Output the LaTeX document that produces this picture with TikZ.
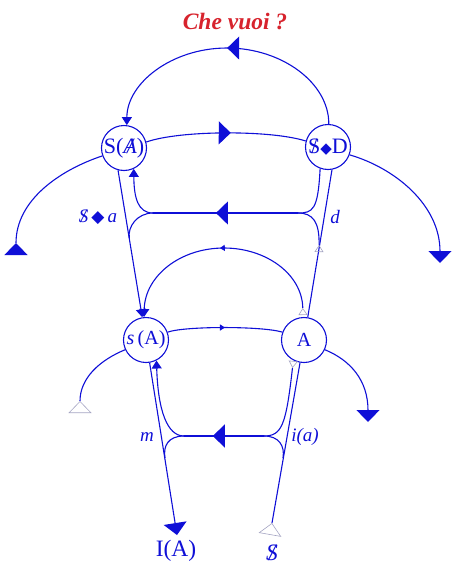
\documentclass[tikz,border=0pt]{standalone}
\usepackage{fontspec}
\setmainfont{Liberation Serif}
\newfontfamily\dejavu{DejaVu Sans}
\usetikzlibrary{arrows.meta,decorations.markings}

\definecolor{lblue}{RGB}{15,15,215}
\definecolor{vred}{RGB}{215,35,45}
\definecolor{lgray}{RGB}{165,165,195}

\newcommand{\barS}{\ooalign{S\cr\hidewidth/\hidewidth}}
\newcommand{\barA}{\ooalign{\itshape A\cr\hidewidth\itshape /\hidewidth}}
\newcommand{\dmd}{{\fontsize{17}{17}\dejavu ◆}}

\tikzset{
	BigTri/.tip={Triangle[width=23pt,length=12pt]},
	MidTri/.tip={Triangle[width=10pt,length=8pt]},
	SmTri/.tip={Triangle[width=6pt,length=5pt]},
	OpenBig/.tip={Triangle[open,width=23pt,length=12pt,line width=0.6pt,color=lgray]},
	OpenSm/.tip={Triangle[open,width=9pt,length=7pt,line width=0.6pt,color=lgray]},
	wire/.style={draw=lblue,line width=1.1pt},
	tail/.style={postaction={decorate,decoration={markings,mark=at position 0 with {\arrow{#1}}}}},
	midbig/.style={postaction={decorate,decoration={markings,mark=at position #1 with {\arrow{BigTri}}}}},
	midsmall/.style={postaction={decorate,decoration={markings,mark=at position #1 with {\arrow{SmTri}}}}},
	knot/.style={circle,draw=lblue,line width=1.1pt,fill=white,minimum size=45pt,inner sep=0pt,text=lblue,font=\fontsize{22}{24}\selectfont},
	lab/.style={text=lblue,inner sep=0pt,font=\fontsize{19}{21}\selectfont\itshape},
	foot/.style={text=lblue,inner sep=0pt,font=\fontsize{23.5}{25}\selectfont}
}

\begin{document}
\begin{tikzpicture}[x=1pt,y=-1pt]
	\useasboundingbox (0,0) rectangle (470,571);

	\node[text=vred,font=\fontsize{23.5}{25}\selectfont\bfseries\itshape] (che) at (235,22) {Che vuoi ?};

	\node[knot] (SA) at (124,148) {S(\barA)};
	\node[knot] (SD) at (328,147) {\barS{\fontsize{15}{15}\dejavu ◆}D};
	\node[knot,font=\fontsize{20}{22}\selectfont] (sA) at (146,340) {\textit{s}\,(A)};
	\node[knot,font=\fontsize{20}{22}\selectfont] (A) at (304,340) {A};

	\coordinate (ltp) at (16,243);
	\coordinate (rtp) at (440,263);
	\coordinate (lla) at (80,401);
	\coordinate (lrb) at (368,422);
	\coordinate (IAt) at (177,535);
	\coordinate (dolt) at (272,523);
	\coordinate (Ur) at (298,213);
	\coordinate (Ul) at (153,213);
	\coordinate (Bt) at (319.1,245);
	\coordinate (Jl) at (129.3,238);
	\coordinate (Lr) at (264,436);
	\coordinate (Ll) at (184,436);
	\coordinate (Rj) at (283,458);
	\coordinate (Lj) at (165,458);
	\coordinate (Atop) at ([yshift=9pt]A.93);
	\coordinate (Abot) at ([yshift=-8pt]A.240);

	% upper level
	\draw[wire,midbig=0.5,-{MidTri}] (SD.88) .. controls (329,83) and (282,48) .. (227,48) .. controls (172,48) and (127,83) .. (SA.83);
	\draw[wire,midbig=0.53] (SA.15) .. controls (180,130) and (272,130) .. (SD.165);
	\draw[wire,tail=BigTri] (ltp) .. controls (16,200) and (60,170) .. (SA.200);
	\draw[wire,-{BigTri}] (SD.340) .. controls (395,168) and (440,205) .. (rtp);
	\draw[wire,-{MidTri}] (SA.255) -- (sA);
	\draw[wire] (A) -- (SD.280);
	\draw[wire] (SD.250) .. controls (318,210) and (313,213) .. (Ur);
	\draw[wire,tail=OpenSm] (Bt) .. controls (319.5,222) and (313,213) .. (Ur);
	\draw[wire,midbig=0.566] (Ur) -- (Ul);
	\draw[wire,-{MidTri}] (Ul) .. controls (138,213) and (134,198) .. (SA.295);
	\draw[wire] (Ul) .. controls (137,213) and (127.5,227) .. (Jl);

	% lower level
	\draw[wire,midsmall=0.5] (sA.20) .. controls (185,326) and (262,326) .. (A.160);
	\draw[wire,tail=OpenSm,midsmall=0.5,-{MidTri}] (Atop) .. controls (302,274) and (266,248) .. (224,248) .. controls (180,248) and (145,276) .. (sA.95);
	\draw[wire,tail=OpenBig] (lla) .. controls (80,378) and (100,360) .. (sA.205);
	\draw[wire,-{BigTri}] (A.335) .. controls (350,360) and (368,380) .. (lrb);
	\draw[wire,-{BigTri}] (sA) -- (IAt);
	\draw[wire,tail=OpenBig] (dolt) -- (A);
	\draw[wire,tail=OpenSm] (Abot) .. controls (286,425) and (282,436) .. (Lr);
	\draw[wire] (Lr) .. controls (279,436) and (285,446) .. (Rj);
	\draw[wire,midbig=0.64] (Lr) -- (Ll);
	\draw[wire,-{MidTri}] (Ll) .. controls (167,436) and (158,410) .. (sA.297);
	\draw[wire] (Ll) .. controls (168,436) and (163,446) .. (Lj);

	\node[lab] (sa) at (98,217) {\barS\,\dmd\,a};
	\node[lab] (d) at (335,217) {d};
	\node[lab] (m) at (147,437) {m};
	\node[lab] (ia) at (305,437) {i(a)};
	\node[foot] (IA) at (176,551) {I(A)};
	\node[foot] (dol) at (272,553) {\itshape\barS};
\end{tikzpicture}
\end{document}
